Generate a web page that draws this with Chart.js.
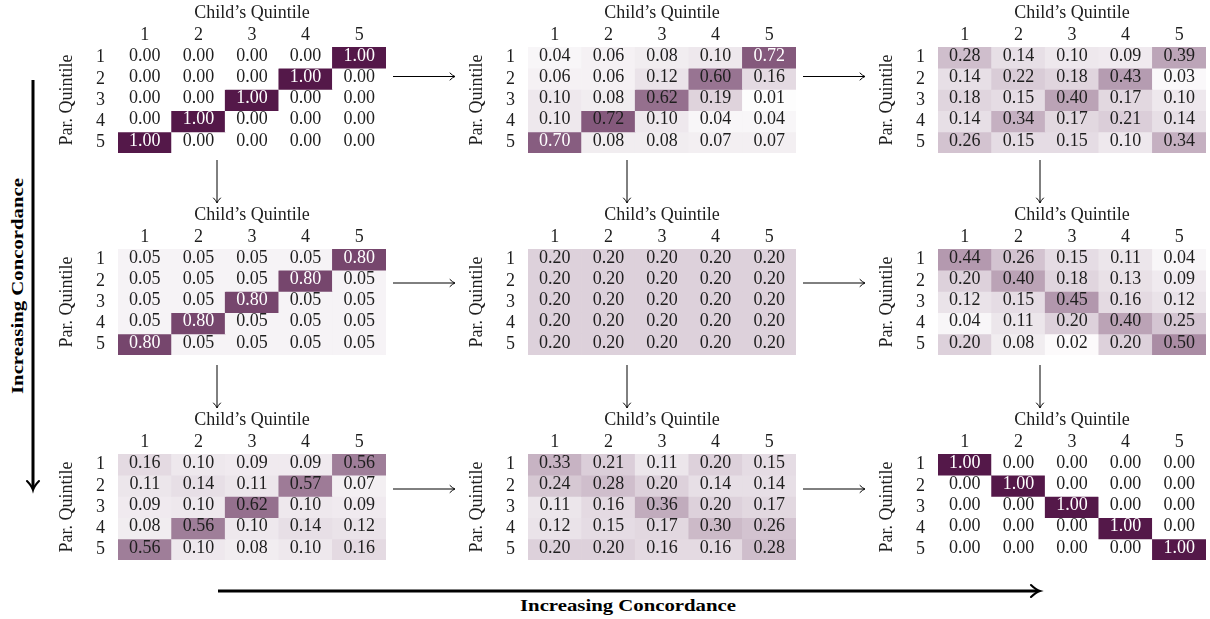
<!DOCTYPE html>
<html><head><meta charset="utf-8">
<script src="https://cdn.jsdelivr.net/npm/chart.js@4.4.1/dist/chart.umd.min.js"></script>
<style>
html,body{margin:0;padding:0;background:#fff;width:1210px;height:619px;overflow:hidden;position:relative}
canvas{position:absolute}
svg{position:absolute;left:0;top:0}
</style></head><body>
<svg id="ann" width="1210" height="619" xmlns="http://www.w3.org/2000/svg"></svg>
<script>
// ---- data ----
const colLabels = ['1','2','3','4','5'];
const rowLabels = ['1','2','3','4','5'];
const xTitle = 'Child\u2019s Quintile';
const yTitle = 'Par. Quintile';
const axisLabel = 'Increasing Concordance';

const p11 = [
  [0.00,0.00,0.00,0.00,1.00],
  [0.00,0.00,0.00,1.00,0.00],
  [0.00,0.00,1.00,0.00,0.00],
  [0.00,1.00,0.00,0.00,0.00],
  [1.00,0.00,0.00,0.00,0.00]];
const p12 = [
  [0.04,0.06,0.08,0.10,0.72],
  [0.06,0.06,0.12,0.60,0.16],
  [0.10,0.08,0.62,0.19,0.01],
  [0.10,0.72,0.10,0.04,0.04],
  [0.70,0.08,0.08,0.07,0.07]];
const p13 = [
  [0.28,0.14,0.10,0.09,0.39],
  [0.14,0.22,0.18,0.43,0.03],
  [0.18,0.15,0.40,0.17,0.10],
  [0.14,0.34,0.17,0.21,0.14],
  [0.26,0.15,0.15,0.10,0.34]];
const p21 = [
  [0.05,0.05,0.05,0.05,0.80],
  [0.05,0.05,0.05,0.80,0.05],
  [0.05,0.05,0.80,0.05,0.05],
  [0.05,0.80,0.05,0.05,0.05],
  [0.80,0.05,0.05,0.05,0.05]];
const p22 = [
  [0.20,0.20,0.20,0.20,0.20],
  [0.20,0.20,0.20,0.20,0.20],
  [0.20,0.20,0.20,0.20,0.20],
  [0.20,0.20,0.20,0.20,0.20],
  [0.20,0.20,0.20,0.20,0.20]];
const p23 = [
  [0.44,0.26,0.15,0.11,0.04],
  [0.20,0.40,0.18,0.13,0.09],
  [0.12,0.15,0.45,0.16,0.12],
  [0.04,0.11,0.20,0.40,0.25],
  [0.20,0.08,0.02,0.20,0.50]];
const p31 = [
  [0.16,0.10,0.09,0.09,0.56],
  [0.11,0.14,0.11,0.57,0.07],
  [0.09,0.10,0.62,0.10,0.09],
  [0.08,0.56,0.10,0.14,0.12],
  [0.56,0.10,0.08,0.10,0.16]];
const p32 = [
  [0.33,0.21,0.11,0.20,0.15],
  [0.24,0.28,0.20,0.14,0.14],
  [0.11,0.16,0.36,0.20,0.17],
  [0.12,0.15,0.17,0.30,0.26],
  [0.20,0.20,0.16,0.16,0.28]];
const p33 = [
  [1.00,0.00,0.00,0.00,0.00],
  [0.00,1.00,0.00,0.00,0.00],
  [0.00,0.00,1.00,0.00,0.00],
  [0.00,0.00,0.00,1.00,0.00],
  [0.00,0.00,0.00,0.00,1.00]];

// ---- style: cells whose annotation is white ----
const antiDiag = [[0,4],[1,3],[2,2],[3,1],[4,0]];
const whiteLabels = {
  p11: antiDiag, p12: [[0,4],[4,0]], p13: [], p21: antiDiag, p22: [], p23: [],
  p31: [], p32: [], p33: [[0,0],[1,1],[2,2],[3,3],[4,4]]
};

// ---- layout ----
const FONT = "'Liberation Serif','Times New Roman',serif";
const INK = '#1e1e1e';
const colLefts = [118, 528, 938];
const rowTops = [47, 249, 454];
const GW = 268, GH = 106, AXW = 80, AXH = 47;

function cellColor(v){
  const lo=[255,255,255], hi=[84,24,73];
  return 'rgb(' + lo.map((a,i)=>Math.round(a+(hi[i]-a)*v)).join(',') + ')';
}

const cellLabels = {
  id:'cellLabels',
  afterDatasetsDraw(chart, args, opts){
    const ctx = chart.ctx; ctx.save();
    ctx.font = '18px ' + FONT; ctx.textAlign='center'; ctx.textBaseline='middle';
    chart.data.datasets.forEach((ds,di)=>{
      chart.getDatasetMeta(di).data.forEach((el,ci)=>{
        const raw = ds.data[ci]; const p = el.getCenterPoint();
        ctx.fillStyle = raw.white ? '#ffffff' : INK;
        ctx.fillText(raw.v.toFixed(2), p.x, p.y + opts.dy);
      });
    });
    ctx.restore();
  }
};

function makePanel(values, whites, left, top){
  const W = AXW + GW, H = AXH + GH;
  const c = document.createElement('canvas');
  c.width = W; c.height = H;
  c.style.left = (left-AXW)+'px'; c.style.top = (top-AXH)+'px';
  c.style.width = W+'px'; c.style.height = H+'px';
  document.body.appendChild(c);
  const isWhite = (r,k)=>whites.some(([a,b])=>a===r&&b===k);
  new Chart(c, {
    type:'bar',
    data:{ labels: colLabels, datasets: values.map((row,r)=>({
      data: row.map((v,k)=>({x: colLabels[k], y:[r+0.5, r+1.5], v: v, white: isWhite(r,k)})),
      backgroundColor: ctx => cellColor(ctx.raw.v),
      borderWidth: 0, grouped: false, barPercentage: 1, categoryPercentage: 1
    }))},
    options:{
      responsive:false, animation:false, devicePixelRatio:1,
      layout:{padding:0},
      plugins:{legend:{display:false}, tooltip:{enabled:false}, cellLabels:{dy:-1.5}},
      scales:{
        x:{type:'category', position:'top',
           grid:{display:false, drawTicks:false}, border:{display:false},
           ticks:{font:{family:FONT,size:18}, color:INK, padding:1, maxRotation:0, autoSkip:false},
           title:{display:true, text:xTitle, font:{family:FONT,size:18}, color:INK, padding:{top:2,bottom:0}},
           afterFit(s){ s.height = AXH; s.paddingLeft = 0; s.paddingRight = 0; s.paddingTop = 0; s.paddingBottom = 0; }},
        y:{type:'linear', reverse:true, min:0.5, max:5.5, bounds:'data',
           grid:{display:false, drawTicks:false}, border:{display:false},
           afterDataLimits(s){ s.min = 0.5; s.max = 5.5; },
           afterBuildTicks(s){ s.ticks = rowLabels.map((l,i)=>({value:i+1})); s.min = 0.5; s.max = 5.5; },
           ticks:{font:{family:FONT,size:18}, color:INK, padding:13, autoSkip:false, callback:(v)=>rowLabels[v-1]},
           title:{display:true, text:yTitle, font:{family:FONT,size:18}, color:INK, padding:{top:18,bottom:0}},
           afterFit(s){ s.width = AXW; s.paddingLeft = 0; s.paddingRight = 0; s.paddingTop = 0; s.paddingBottom = 0; }}
      }
    },
    plugins:[cellLabels]
  });
}

const grid = [[p11,p12,p13],[p21,p22,p23],[p31,p32,p33]];
const names = [['p11','p12','p13'],['p21','p22','p23'],['p31','p32','p33']];
grid.forEach((row,i)=>row.forEach((vals,j)=>makePanel(vals, whiteLabels[names[i][j]], colLefts[j], rowTops[i])));

// ---- annotations (arrows, labels) ----
const svg = document.getElementById('ann');
const NS = 'http://www.w3.org/2000/svg';
function el(tag, attrs, text){
  const e = document.createElementNS(NS, tag);
  for (const k in attrs) e.setAttribute(k, attrs[k]);
  if (text) e.textContent = text;
  svg.appendChild(e); return e;
}
function arrow(x1,y1,x2,y2,w,h,s){
  const L = Math.hypot(x2-x1,y2-y1), ux=(x2-x1)/L, uy=(y2-y1)/L, nx=-uy, ny=ux;
  el('line',{x1:x1,y1:y1,x2:x2-ux*w*0.6,y2:y2-uy*w*0.6,stroke:'#000','stroke-width':w});
  const b1=[x2-ux*h+nx*s, y2-uy*h+ny*s], b2=[x2-ux*h-nx*s, y2-uy*h-ny*s];
  const c1=[x2-ux*h*0.45+nx*s*0.2, y2-uy*h*0.45+ny*s*0.2], c2=[x2-ux*h*0.45-nx*s*0.2, y2-uy*h*0.45-ny*s*0.2];
  el('path',{d:`M${b1[0]},${b1[1]} Q${c1[0]},${c1[1]} ${x2},${y2} Q${c2[0]},${c2[1]} ${b2[0]},${b2[1]}`,
    fill:'none',stroke:'#000','stroke-width':Math.max(1,w*0.7),'stroke-linecap':'round'});
}
// horizontal small arrows
[76.5, 283, 489].forEach(y=>{ arrow(393,y,455,y,1,5,3.5); arrow(803,y,865,y,1,5,3.5); });
// vertical small arrows
[[160,203],[365,408]].forEach(([a,b])=>{ [217,627,1040].forEach(x=>arrow(x,a,x,b,1,5,3.5)); });
// big arrows
arrow(33,80,33,490,3,9,6);
arrow(218,591,1040,591,3,9,6);
el('text',{x:628,y:611,'text-anchor':'middle','font-family':FONT,'font-weight':'bold','font-size':17,
  textLength:216,lengthAdjust:'spacingAndGlyphs',fill:'#000'}, axisLabel);
el('text',{transform:'translate(23,286) rotate(-90)','text-anchor':'middle','font-family':FONT,'font-weight':'bold','font-size':17,
  textLength:216,lengthAdjust:'spacingAndGlyphs',fill:'#000'}, axisLabel);
</script>
</body></html>
